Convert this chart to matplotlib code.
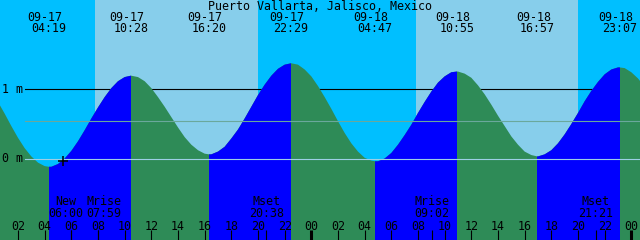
import matplotlib
matplotlib.use("Agg")
import matplotlib.pyplot as plt
import matplotlib.transforms as mtransforms
from matplotlib.patches import Polygon
import numpy as np

station = "Puerto Vallarta, Jalisco, Mexico"

# tide height every half hour, hours since 09-17 00:00
hours = list(np.arange(0, 49.5, 0.5))
height_m = [0.98, 0.82, 0.65, 0.47, 0.30, 0.15, 0.03, -0.06, -0.11, -0.12,
            -0.08, 0.00, 0.11, 0.25, 0.41, 0.58, 0.74, 0.89, 1.02, 1.12,
            1.18, 1.20, 1.18, 1.12, 1.02, 0.89, 0.75, 0.60, 0.45, 0.31,
            0.20, 0.12, 0.07, 0.06, 0.10, 0.17, 0.29, 0.42, 0.58, 0.75,
            0.92, 1.07, 1.20, 1.30, 1.36, 1.38, 1.36, 1.29, 1.19, 1.05,
            0.89, 0.72, 0.54, 0.37, 0.22, 0.10, 0.01, -0.03, -0.04, 0.00,
            0.08, 0.20, 0.34, 0.49, 0.66, 0.82, 0.97, 1.10, 1.19, 1.25,
            1.26, 1.23, 1.17, 1.06, 0.93, 0.78, 0.62, 0.47, 0.32, 0.20,
            0.10, 0.05, 0.03, 0.06, 0.12, 0.22, 0.35, 0.50, 0.66, 0.83,
            0.98, 1.11, 1.22, 1.29, 1.32, 1.31, 1.25, 1.16, 1.04]

# high / low tides (labelled along the top)
ext_dates = ["09-17", "09-17", "09-17", "09-17", "09-18", "09-18", "09-18", "09-18"]
ext_times = ["04:19", "10:28", "16:20", "22:29", "04:47", "10:55", "16:57", "23:07"]
ext_hours = [4 + 19 / 60, 10 + 28 / 60, 16 + 20 / 60, 22 + 29 / 60,
             28 + 47 / 60, 34 + 55 / 60, 40 + 57 / 60, 47 + 7 / 60]
ext_height = [-0.12, 1.20, 0.06, 1.38, -0.04, 1.26, 0.03, 1.32]

sunrise_h = [7.77, 31.85]
sunset_h = [20.0, 44.0]

moon_names = ["New", "Mrise", "Mset", "Mrise", "Mset"]
moon_clock = ["06:00", "07:59", "20:38", "09:02", "21:21"]
moon_hours = [6.0, 7 + 59 / 60, 20 + 38 / 60, 33 + 2 / 60, 45 + 21 / 60]

msl_m = 0.55
now_h, now_m = 5.35, -0.03

# look
NIGHT = "#00bfff"
DAY = "#87ceeb"
FLOOD = "#0000ff"
EBB = "#2e8b57"
W, H = 640, 240
t0 = 0.65
t1 = t0 + 48
y_zero_px, px_per_m = 158.5, 69.0
ybot = -(H - y_zero_px) / px_per_m
ytop = y_zero_px / px_per_m
font = dict(family="DejaVu Sans Mono", fontsize=8.4, color="black")

fig = plt.figure(figsize=(W / 100, H / 100), dpi=100)
ax = fig.add_axes([0, 0, 1, 1])
ax.set_xlim(t0, t1)
ax.set_ylim(ybot, ytop)
ax.set_xticks([])
ax.set_yticks([])
for s in ax.spines.values():
    s.set_visible(False)

# sky
ax.axvspan(t0, t1, color=NIGHT, lw=0, zorder=0)
for r, s in zip(sunrise_h, sunset_h):
    ax.axvspan(r, s, color=DAY, lw=0, zorder=0)

ax.axhline(1.0, xmin=25 / W, xmax=1, color="black", lw=0.8, zorder=1)

# water: ebb everywhere, flood between each low and the next high
t = np.array(hours + ext_hours, dtype=float)
h = np.array(height_m + ext_height, dtype=float)
order = np.argsort(t, kind="stable")
t, h = t[order], h[order]
verts = [(t[0], ybot)] + list(zip(t, h)) + [(t[-1], ybot)]
water = Polygon(verts, closed=True, facecolor=EBB, edgecolor="none", zorder=2)
ax.add_patch(water)
for a, b in zip(ext_hours[0::2], ext_hours[1::2]):
    sp = ax.axvspan(a, b, color=FLOOD, lw=0, zorder=2.1)
    sp.set_clip_path(water)

ax.axhline(msl_m, xmin=25 / W, xmax=1, color="#6aa89c", lw=0.8, zorder=3)
ax.axhline(0.0, xmin=25 / W, xmax=1, color="#9ccfe6", lw=0.8, zorder=3)

yt = ax.get_yaxis_transform()
ax.text(2 / W, 1.0, "1 m", transform=yt, ha="left", va="center", **font)
ax.text(2 / W, 0.0, "0 m", transform=yt, ha="left", va="center", **font)

ax.plot([now_h], [now_m], marker="+", color="black", ms=7.5, mew=1.1, zorder=4)

# labels along the top
xt = ax.get_xaxis_transform()
ax.text(0.5, 1 - 6 / H, station, transform=ax.transAxes, ha="center", va="center", **font)
date_tr = mtransforms.offset_copy(xt, fig=fig, x=-4, y=0, units="dots")
for d, c, x in zip(ext_dates, ext_times, ext_hours):
    ax.text(x, 1 - 17.5 / H, d, transform=date_tr, ha="center", va="center", **font)
    ax.text(x, 1 - 29 / H, c, transform=xt, ha="center", va="center", **font)

# bottom: hour ticks and moon events
for hr in range(2, 49, 2):
    ax.text(hr, 1 - 226 / H, f"{hr % 24:02d}", transform=xt, ha="center", va="center", **font)
    lw = 2.2 if hr % 24 == 0 else 0.8
    ax.vlines(hr, 0, 10 / H, transform=xt, color="black", lw=lw, zorder=5)

nudge_px = [-6, 6, 0, 0, 0]
for name, clk, x, dx in zip(moon_names, moon_clock, moon_hours, nudge_px):
    tr = mtransforms.offset_copy(xt, fig=fig, x=dx, y=0, units="dots")
    ax.text(x, 1 - 201.5 / H, name, transform=tr, ha="center", va="center", **font)
    ax.text(x, 1 - 213.5 / H, clk, transform=tr, ha="center", va="center", **font)
    ax.vlines(x, 0, 10 / H, transform=xt, color="black", lw=0.8, zorder=5)

fig.savefig("out.png", dpi=100)
